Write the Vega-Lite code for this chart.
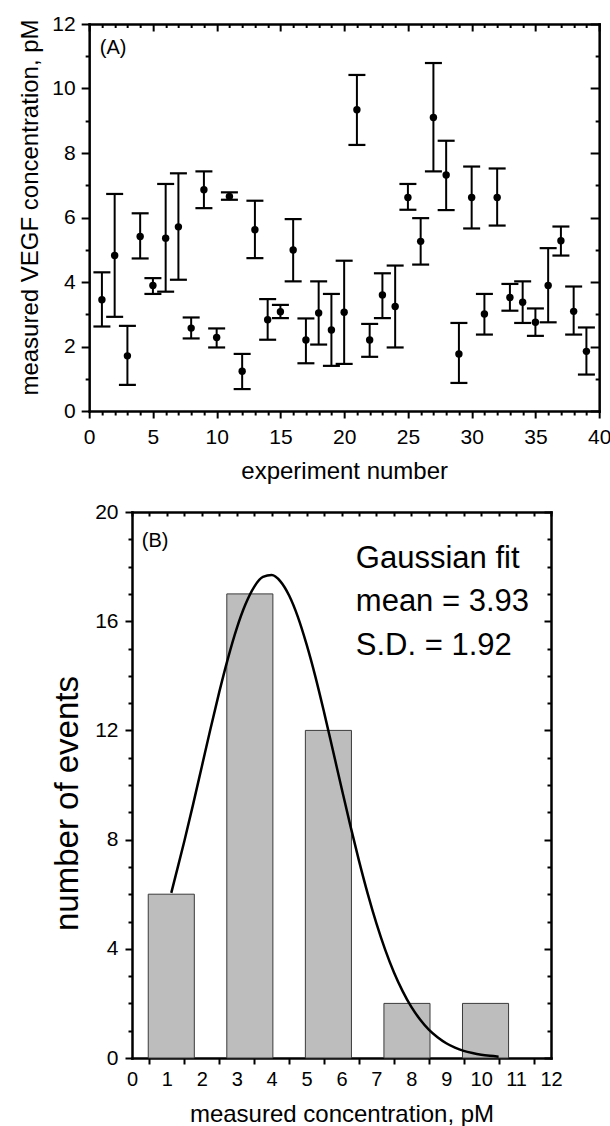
{
  "$schema": "https://vega.github.io/schema/vega-lite/v6.json",
  "padding": {"left": 18, "top": 13, "right": 0, "bottom": 0},
  "background": "white",
  "spacing": 18,
  "align": "each",
  "center": true,
  "datasets": {
    "exps": [
      {"exp": 1, "v": 3.45, "lo": 2.62, "hi": 4.30},
      {"exp": 2, "v": 4.82, "lo": 2.92, "hi": 6.73},
      {"exp": 3, "v": 1.71, "lo": 0.81, "hi": 2.64},
      {"exp": 4, "v": 5.41, "lo": 4.73, "hi": 6.13},
      {"exp": 5, "v": 3.89, "lo": 3.63, "hi": 4.12},
      {"exp": 6, "v": 5.36, "lo": 3.70, "hi": 7.04},
      {"exp": 7, "v": 5.71, "lo": 4.07, "hi": 7.37},
      {"exp": 8, "v": 2.57, "lo": 2.25, "hi": 2.90},
      {"exp": 9, "v": 6.86, "lo": 6.29, "hi": 7.43},
      {"exp": 10, "v": 2.28, "lo": 1.97, "hi": 2.56},
      {"exp": 11, "v": 6.65, "lo": 6.55, "hi": 6.78},
      {"exp": 12, "v": 1.23, "lo": 0.68, "hi": 1.77},
      {"exp": 13, "v": 5.62, "lo": 4.74, "hi": 6.52},
      {"exp": 14, "v": 2.83, "lo": 2.21, "hi": 3.47},
      {"exp": 15, "v": 3.08, "lo": 2.88, "hi": 3.29},
      {"exp": 16, "v": 4.99, "lo": 4.02, "hi": 5.95},
      {"exp": 17, "v": 2.20, "lo": 1.48, "hi": 2.87},
      {"exp": 18, "v": 3.04, "lo": 2.06, "hi": 4.02},
      {"exp": 19, "v": 2.51, "lo": 1.40, "hi": 3.63},
      {"exp": 20, "v": 3.06, "lo": 1.46, "hi": 4.66},
      {"exp": 21, "v": 9.34, "lo": 8.25, "hi": 10.42},
      {"exp": 22, "v": 2.20, "lo": 1.68, "hi": 2.70},
      {"exp": 23, "v": 3.60, "lo": 2.88, "hi": 4.27},
      {"exp": 24, "v": 3.24, "lo": 1.97, "hi": 4.51},
      {"exp": 25, "v": 6.62, "lo": 6.24, "hi": 7.04},
      {"exp": 26, "v": 5.26, "lo": 4.54, "hi": 5.98},
      {"exp": 27, "v": 9.10, "lo": 7.43, "hi": 10.79},
      {"exp": 28, "v": 7.32, "lo": 6.23, "hi": 8.38},
      {"exp": 29, "v": 1.77, "lo": 0.87, "hi": 2.73},
      {"exp": 30, "v": 6.62, "lo": 5.66, "hi": 7.58},
      {"exp": 31, "v": 3.01, "lo": 2.37, "hi": 3.63},
      {"exp": 32, "v": 6.62, "lo": 5.75, "hi": 7.52},
      {"exp": 33, "v": 3.52, "lo": 3.11, "hi": 3.94},
      {"exp": 34, "v": 3.37, "lo": 2.73, "hi": 4.02},
      {"exp": 35, "v": 2.75, "lo": 2.33, "hi": 3.18},
      {"exp": 36, "v": 3.89, "lo": 2.75, "hi": 5.05},
      {"exp": 37, "v": 5.28, "lo": 4.82, "hi": 5.72},
      {"exp": 38, "v": 3.09, "lo": 2.37, "hi": 3.86},
      {"exp": 39, "v": 1.85, "lo": 1.13, "hi": 2.59}
    ],
    "bins": [
      {"lo": 0.465, "hi": 1.785, "n": 6},
      {"lo": 2.715, "hi": 4.035, "n": 17},
      {"lo": 4.965, "hi": 6.285, "n": 12},
      {"lo": 7.215, "hi": 8.535, "n": 2},
      {"lo": 9.465, "hi": 10.785, "n": 2}
    ],
    "curve": [
      {"cx": 1.125, "cy": 6.05}, {"cx": 1.25, "cy": 6.68}, {"cx": 1.5, "cy": 7.95}, {"cx": 1.75, "cy": 9.29},
      {"cx": 2.0, "cy": 10.68}, {"cx": 2.25, "cy": 12.07}, {"cx": 2.5, "cy": 13.41}, {"cx": 2.75, "cy": 14.65},
      {"cx": 3.0, "cy": 15.74}, {"cx": 3.25, "cy": 16.62}, {"cx": 3.5, "cy": 17.26}, {"cx": 3.75, "cy": 17.62},
      {"cx": 4.0, "cy": 17.69}, {"cx": 4.25, "cy": 17.46}, {"cx": 4.5, "cy": 16.94}, {"cx": 4.75, "cy": 16.16},
      {"cx": 5.0, "cy": 15.15}, {"cx": 5.25, "cy": 13.98}, {"cx": 5.5, "cy": 12.67}, {"cx": 5.75, "cy": 11.29},
      {"cx": 6.0, "cy": 9.90}, {"cx": 6.25, "cy": 8.53}, {"cx": 6.5, "cy": 7.23}, {"cx": 6.75, "cy": 6.02},
      {"cx": 7.0, "cy": 4.93}, {"cx": 7.25, "cy": 3.97}, {"cx": 7.5, "cy": 3.14}, {"cx": 7.75, "cy": 2.45},
      {"cx": 8.0, "cy": 1.87}, {"cx": 8.25, "cy": 1.41}, {"cx": 8.5, "cy": 1.04}, {"cx": 8.75, "cy": 0.76},
      {"cx": 9.0, "cy": 0.54}, {"cx": 9.25, "cy": 0.38}, {"cx": 9.5, "cy": 0.26}, {"cx": 9.75, "cy": 0.18},
      {"cx": 10.0, "cy": 0.12}, {"cx": 10.25, "cy": 0.08}, {"cx": 10.5, "cy": 0.05}
    ],
    "labelsA": [{"x": 0.84, "y": 11.08, "t": "(A)"}],
    "labelsB": [{"x": 0.28, "y": 18.7, "t": "(B)"}],
    "fitText": [
      {"x": 6.41, "y": 17.95, "t": "Gaussian fit"},
      {"x": 6.41, "y": 16.37, "t": "mean = 3.93"},
      {"x": 6.41, "y": 14.75, "t": "S.D. = 1.92"}
    ]
  },
  "vconcat": [
    {
      "width": 510,
      "height": 387,
      "layer": [
        {
          "data": {"name": "exps"},
          "mark": {"type": "rule", "color": "black", "strokeWidth": 2},
          "encoding": {
            "x": {"field": "exp", "type": "quantitative",
              "scale": {"domain": [0, 40], "nice": false, "zero": false},
              "axis": {"orient": "bottom", "values": [0,1,2,3,4,5,6,7,8,9,10,11,12,13,14,15,16,17,18,19,20,21,22,23,24,25,26,27,28,29,30,31,32,33,34,35,36,37,38,39,40],
                "tickSize": {"condition": {"test": "datum.value % 5 === 0", "value": 7}, "value": 4},
                "labelExpr": "datum.value % 5 === 0 ? datum.label : ''",
                "labelFontSize": 21, "labelPadding": 8, "title": "experiment number", "titleFontSize": 24, "titlePadding": 12}},
            "y": {"field": "lo", "type": "quantitative",
              "scale": {"domain": [0, 12], "nice": false, "zero": false},
              "axis": {"orient": "left", "values": [0,1,2,3,4,5,6,7,8,9,10,11,12],
                "tickSize": {"condition": {"test": "datum.value % 2 === 0", "value": 8}, "value": 4},
                "labelExpr": "datum.value % 2 === 0 ? datum.label : ''",
                "labelFontSize": 21, "labelPadding": 6, "title": "measured VEGF concentration, pM", "titleFontSize": 24, "titlePadding": 9, "titleY": 183}},
            "y2": {"field": "hi"}
          }
        },
        {
          "data": {"name": "exps"},
          "mark": {"type": "tick", "orient": "horizontal", "color": "black", "size": 17, "thickness": 2.2, "opacity": 1},
          "encoding": {
            "x": {"field": "exp", "type": "quantitative", "axis": null},
            "y": {"field": "lo", "type": "quantitative", "axis": null}
          }
        },
        {
          "data": {"name": "exps"},
          "mark": {"type": "tick", "orient": "horizontal", "color": "black", "size": 17, "thickness": 2.2, "opacity": 1},
          "encoding": {
            "x": {"field": "exp", "type": "quantitative", "axis": null},
            "y": {"field": "hi", "type": "quantitative", "axis": null}
          }
        },
        {
          "data": {"name": "exps"},
          "mark": {"type": "circle", "color": "black", "size": 55, "opacity": 1},
          "encoding": {
            "x": {"field": "exp", "type": "quantitative",
              "axis": {"orient": "top", "values": [0,1,2,3,4,5,6,7,8,9,10,11,12,13,14,15,16,17,18,19,20,21,22,23,24,25,26,27,28,29,30,31,32,33,34,35,36,37,38,39,40],
                "tickSize": {"condition": {"test": "datum.value % 5 === 0", "value": -7}, "value": -3.5},
                "labels": false, "title": null}},
            "y": {"field": "v", "type": "quantitative",
              "axis": {"orient": "right", "values": [0,1,2,3,4,5,6,7,8,9,10,11,12],
                "tickSize": {"condition": {"test": "datum.value % 2 === 0", "value": -9}, "value": -4},
                "labels": false, "title": null}}
          }
        },
        {
          "data": {"name": "labelsA"},
          "mark": {"type": "text", "align": "left", "baseline": "alphabetic", "fontSize": 20, "color": "black"},
          "encoding": {
            "x": {"field": "x", "type": "quantitative", "axis": null},
            "y": {"field": "y", "type": "quantitative", "axis": null},
            "text": {"field": "t"}
          }
        }
      ]
    },
    {
      "width": 419,
      "height": 546,
      "layer": [
        {
          "data": {"name": "bins"},
          "mark": {"type": "rect", "fill": "#bdbdbd", "stroke": "#3a3a3a", "strokeWidth": 1},
          "encoding": {
            "x": {"field": "lo", "type": "quantitative",
              "scale": {"domain": [0, 12], "nice": false, "zero": false},
              "axis": {"orient": "bottom", "values": [0,1,2,3,4,5,6,7,8,9,10,11,12],
                "tickOffset": 17.46, "labelOffset": -17.46,
                "tickSize": 6,
                "tickOpacity": {"condition": {"test": "datum.value === 12", "value": 0}, "value": 1},
                "labelFontSize": 20, "labelPadding": 5, "title": "measured concentration, pM", "titleFontSize": 24, "titlePadding": 13}},
            "x2": {"field": "hi"},
            "y": {"field": "n", "type": "quantitative",
              "scale": {"domain": [0, 20], "nice": false, "zero": false},
              "axis": {"orient": "left", "values": [0,1,2,3,4,5,6,7,8,9,10,11,12,13,14,15,16,17,18,19,20],
                "tickSize": {"condition": {"test": "datum.value % 4 === 0", "value": 7}, "value": 4},
                "labelExpr": "datum.value % 4 === 0 ? datum.label : ''",
                "labelFontSize": 21, "labelPadding": 7, "title": "number of events", "titleFontSize": 33, "titlePadding": 10, "titleY": 291}},
            "y2": {"datum": 0}
          }
        },
        {
          "data": {"name": "curve"},
          "mark": {"type": "line", "color": "black", "strokeWidth": 2.5, "interpolate": "monotone"},
          "encoding": {
            "x": {"field": "cx", "type": "quantitative",
              "axis": {"orient": "top", "values": [0,0.5,1,1.5,2,2.5,3,3.5,4,4.5,5,5.5,6,6.5,7,7.5,8,8.5,9,9.5,10,10.5,11,11.5,12],
                "tickSize": -4, "labels": false, "title": null}},
            "y": {"field": "cy", "type": "quantitative",
              "axis": {"orient": "right", "values": [0,1,2,3,4,5,6,7,8,9,10,11,12,13,14,15,16,17,18,19,20],
                "tickSize": {"condition": {"test": "datum.value % 4 === 0", "value": -7}, "value": -4},
                "labels": false, "title": null}}
          }
        },
        {
          "data": {"name": "labelsB"},
          "mark": {"type": "text", "align": "left", "baseline": "alphabetic", "fontSize": 20, "color": "black"},
          "encoding": {
            "x": {"field": "x", "type": "quantitative", "axis": null},
            "y": {"field": "y", "type": "quantitative", "axis": null},
            "text": {"field": "t"}
          }
        },
        {
          "data": {"name": "fitText"},
          "mark": {"type": "text", "align": "left", "baseline": "alphabetic", "fontSize": 31, "color": "black"},
          "encoding": {
            "x": {"field": "x", "type": "quantitative", "axis": null},
            "y": {"field": "y", "type": "quantitative", "axis": null},
            "text": {"field": "t"}
          }
        }
      ]
    }
  ],
  "config": {
    "view": {"stroke": null},
    "font": "Liberation Sans",
    "text": {"font": "Liberation Sans"},
    "axis": {
      "grid": false,
      "domainColor": "black",
      "domainWidth": 2.5,
      "domainCap": "square",
      "tickColor": "black",
      "tickWidth": 2,
      "labelColor": "black",
      "titleColor": "black",
      "labelFont": "Liberation Sans",
      "titleFont": "Liberation Sans",
      "titleFontWeight": "normal",
      "labelOverlap": false,
      "labelFlush": false,
      "labelBound": false
    }
  }
}
